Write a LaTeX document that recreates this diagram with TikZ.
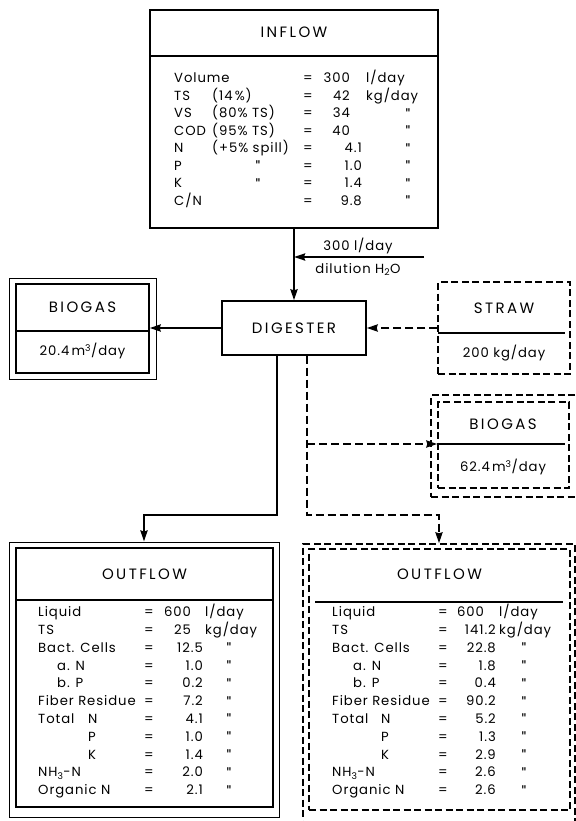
\documentclass[tikz,border=0pt]{standalone}
\usepackage{fontspec}
\setmainfont{Poppins}[LetterSpace=7]
\newfontfamily\hdrfont{Poppins}[LetterSpace=16]
\usetikzlibrary{arrows.meta}
\newcommand\tfs{\fontsize{13.2}{16}\selectfont}
\newcommand\hfs{\hdrfont\fontsize{15}{17}\selectfont}
\newcommand\dto{{\fontsize{16}{16}\selectfont\textquotedbl}}
\newcommand\mkbox[6]{\node[#1, minimum width={(#5)-(#3)}, minimum height={(#6)-(#4)}] (#2) at ({((#3)+(#5))/2},{((#4)+(#6))/2}) {};}
\newcommand\Trow[6]{%
  \node[tx,anchor=west] (#1l) at (#3,#2) {#4};
  \node[tx] (#1e) at (\cEq,#2) {=};
  \node[tx,anchor=east] (#1v) at (\cVal,#2) {#5};
  \ifx&#6&\node[tx] (#1u) at (\cDit,{#2+3.5}) {\dto};\else\node[tx,anchor=west] (#1u) at (\cUnit,#2) {#6};\fi}
\begin{document}
\begin{tikzpicture}[x=1pt,y=-1pt,
  box/.style={draw, line width=1.3pt, inner sep=0pt},
  thinbox/.style={draw, line width=0.9pt, inner sep=0pt},
  dbox/.style={draw, line width=1.3pt, dash pattern=on 7pt off 3.5pt, inner sep=0pt},
  divl/.style={line width=1.2pt},
  hd/.style={font=\hfs, inner sep=0pt, text height=10.5pt, text depth=0pt},
  tx/.style={font=\tfs, inner sep=0pt, text height=9.2pt, text depth=0pt},
  conn/.style={line width=2.2pt},
  arr/.style={conn, -{Stealth[length=11pt,width=7pt,inset=1pt]}},
  darr/.style={conn, dash pattern=on 8pt off 4pt, -{Stealth[length=11pt,width=7pt,inset=1pt]}},
]
\useasboundingbox (0,0) rectangle (575,821);

% ---------- INFLOW ----------
\mkbox{box}{inflow}{150}{10}{438}{228}
\draw[divl] (150,56) -- (438,56);
\node[hd] (inflowT) at (294,32) {INFLOW};
\def\cEq{308}\def\cVal{362}\def\cUnit{366}\def\cDit{408}
\Trow{i1}{78}{174}{Volume}{300\phantom{.0}}{l/day}
\Trow{i2}{95.5}{174}{TS}{42\phantom{.0}}{kg/day}
\Trow{i3}{113}{174}{VS}{34\phantom{.0}}{}
\Trow{i4}{130.5}{174}{COD}{40\phantom{.0}}{}
\Trow{i5}{148}{174}{N}{4.1}{}
\Trow{i6}{165.5}{174}{P}{1.0}{}
\Trow{i7}{183}{174}{K}{1.4}{}
\Trow{i8}{200.5}{174}{C/N}{9.8}{}
\node[tx,anchor=west] (i2b) at (212,95.5) {(14\,\%)};
\node[tx,anchor=west] (i3b) at (212,113) {(80\% TS)};
\node[tx,anchor=west] (i4b) at (212,130.5) {(95\% TS)};
\node[tx,anchor=west] (i5b) at (212,148) {(+5\% spill)};
\node[tx] (i6b) at (258,169) {\dto};
\node[tx] (i7b) at (258,186.5) {\dto};

% ---------- DIGESTER ----------
\mkbox{box}{digester}{222}{301}{366}{355}
\node[hd] (digT) at (digester) {DIGESTER};
\draw[arr] (inflow.south) -- (digester.north);
\coordinate (dilS) at (424,257);
\draw[arr] (dilS) -- (dilS -| inflow.south);
\node[tx] (dilA) at (358,246) {300 l/day};
\node[tx] (dilB) at (358,268.5) {dilution H\textsubscript{2}O};

% ---------- BIOGAS left ----------
\mkbox{thinbox}{bioLo}{9}{278}{156}{379}
\mkbox{box}{bioLi}{16}{284}{149}{373}
\draw[divl] (16,331) -- (149,331);
\node[hd] (bioLT) at (82.5,307) {BIOGAS};
\node[tx] (bioLV) at (82.5,351) {20.4\,m\textsuperscript{3}/day};
\draw[arr] (digester.west) -- (digester.west -| bioLi.east);

% ---------- STRAW ----------
\mkbox{dbox}{straw}{438}{282}{570}{374}
\draw[divl] (438,333) -- (565,333);
\node[hd] (strawT) at (504,308) {STRAW};
\node[tx] (strawV) at (504,353) {200 kg/day};
\draw[darr] (straw.west |- digester.east) -- (digester.east);

% ---------- BIOGAS right ----------
\mkbox{dbox}{bioRo}{431}{395}{578}{497}
\mkbox{dbox}{bioRi}{438}{402}{569}{488}
\draw[divl] (438,444) -- (565,444);
\node[hd] (bioRT) at (503,424) {BIOGAS};
\node[tx] (bioRV) at (503,467) {62.4\,m\textsuperscript{3}/day};

% ---------- OUTFLOW boxes ----------
\mkbox{thinbox}{outLo}{9}{542}{279}{817}
\mkbox{box}{outLi}{16}{548}{273}{807}
\draw[divl] (16,600) -- (273,600);
\node[hd] (outLT) at (144.5,574) {OUTFLOW};
\mkbox{dbox}{outRo}{303}{544}{575}{826}
\mkbox{dbox}{outRi}{309}{549}{570}{810}
\draw[divl] (315,602) -- (563,602);
\node[hd] (outRT) at (439.5,574) {OUTFLOW};

% ---------- connectors ----------
\coordinate (sj) at (277,515);
\draw[arr] (digester.south -| sj) -- (sj) -| (outLo.north);
\coordinate (dj) at (307,515);
\draw[darr] (digester.south -| dj) -- (dj) -| (outRo.north);
\coordinate (db) at (307,444);
\draw[darr] (db) -- (db -| bioRi.west);

% ---------- OUTFLOW left table ----------
\def\cEq{149}\def\cVal{203}\def\cUnit{205}\def\cDit{229}
\Trow{l1}{612}{38}{Liquid}{600\phantom{.0}}{l/day}
\Trow{l2}{629.8}{38}{TS}{25\phantom{.0}}{kg/day}
\Trow{l3}{647.6}{38}{Bact. Cells}{12.5}{}
\Trow{l4}{665.4}{57}{a. N}{1.0}{}
\Trow{l5}{683.2}{57}{b. P}{0.2}{}
\Trow{l6}{701}{38}{Fiber Residue}{7.2}{}
\Trow{l7}{718.8}{38}{Total}{4.1}{}
\node[tx,anchor=west] (l7n) at (88,718.8) {N};
\Trow{l8}{736.6}{88}{P}{1.0}{}
\Trow{l9}{754.4}{88}{K}{1.4}{}
\Trow{l10}{772.2}{38}{NH\textsubscript{3}-N}{2.0}{}
\Trow{l11}{790}{38}{Organic N}{2.1}{}

% ---------- OUTFLOW right table ----------
\def\cEq{443}\def\cVal{496}\def\cUnit{499}\def\cDit{524}
\Trow{r1}{612}{332}{Liquid}{600\phantom{.0}}{l/day}
\Trow{r2}{629.8}{332}{TS}{141.2}{kg/day}
\Trow{r3}{647.6}{332}{Bact. Cells}{22.8}{}
\Trow{r4}{665.4}{353}{a. N}{1.8}{}
\Trow{r5}{683.2}{353}{b. P}{0.4}{}
\Trow{r6}{701}{332}{Fiber Residue}{90.2}{}
\Trow{r7}{718.8}{332}{Total}{5.2}{}
\node[tx,anchor=west] (r7n) at (381,718.8) {N};
\Trow{r8}{736.6}{381}{P}{1.3}{}
\Trow{r9}{754.4}{381}{K}{2.9}{}
\Trow{r10}{772.2}{332}{NH\textsubscript{3}-N}{2.6}{}
\Trow{r11}{790}{332}{Organic N}{2.6}{}
\end{tikzpicture}
\end{document}
